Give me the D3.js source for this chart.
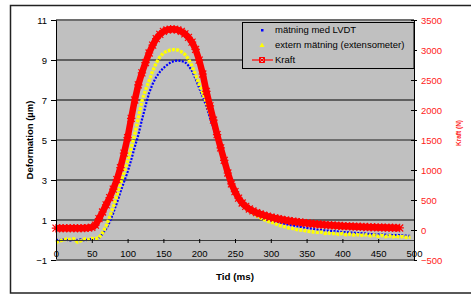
<!DOCTYPE html>
<html>
<head>
<meta charset="utf-8">
<script src="https://cdn.jsdelivr.net/npm/d3@7"></script>
<style>
  body { margin: 0; background: #fff; }
  text { font-family: "Liberation Sans", Arial, sans-serif; }
</style>
</head>
<body>
<div id="chart"></div>
<script>
// time in ms
const tid = [0,5,10,15,20,25,30,35,40,45,50,55,60,65,70,75,80,85,90,95,
  100,105,110,115,120,125,130,135,140,145,150,155,160,165,170,175,180,185,190,195,
  200,205,210,215,220,225,230,235,240,245,250,255,260,265,270,275,280,285,290,295,
  300,305,310,315,320,325,330,335,340,345,350,355,360,365,370,375,380,385,390,395,
  400,405,410,415,420,425,430,435,440,445,450,455,460,465,470,475,480,485,490,495];

// deformation (µm), LVDT
const lvdt = [0.02,-0.02,0.03,0.00,-0.03,0.02,0.00,0.03,-0.02,0.02,0.05,0.03,0.10,0.30,0.55,0.90,1.35,1.85,2.40,2.90,
  3.40,4.00,4.65,5.25,6.00,6.70,7.35,7.80,8.15,8.40,8.60,8.75,8.88,8.95,8.97,8.95,8.90,8.72,8.45,8.05,
  7.60,7.15,6.70,6.10,5.60,5.00,4.40,3.80,3.20,2.75,2.35,2.00,1.75,1.55,1.42,1.32,1.24,1.16,1.10,1.03,
  0.98,0.93,0.88,0.84,0.80,0.76,0.73,0.70,0.67,0.63,0.60,0.58,0.55,0.52,0.50,0.48,0.47,0.45,0.44,0.42,
  0.40,0.39,0.38,0.36,0.35,0.34,0.33,0.31,0.30,0.29,0.28,0.28,0.27,0.26,0.25,0.25,0.24,0.23,0.22,0.20];

// deformation (µm), extensometer
const extern = [-0.12,-0.05,0.00,0.05,0.02,0.06,-0.10,-0.04,0.05,0.02,0.08,0.06,0.12,0.35,0.70,1.15,1.65,2.20,2.80,3.35,
  3.95,4.60,5.30,6.10,6.95,7.50,7.95,8.45,8.85,9.15,9.35,9.45,9.50,9.52,9.50,9.42,9.28,9.05,8.70,8.25,
  7.80,7.35,6.90,6.35,5.80,5.15,4.50,3.85,3.25,2.80,2.40,2.05,1.80,1.60,1.45,1.33,1.22,1.12,1.03,0.95,
  0.88,0.85,0.75,0.70,0.66,0.60,0.58,0.53,0.50,0.50,0.44,0.42,0.40,0.38,0.40,0.33,0.36,0.30,0.34,0.28,
  0.33,0.26,0.30,0.25,0.28,0.22,0.27,0.24,0.20,0.25,0.18,0.23,0.17,0.22,0.15,0.20,0.14,0.18,0.12,0.15];

// force (N), t = 0..480
const kraft = [30,30,30,30,30,30,30,30,32,35,
  45,80,190,300,420,540,680,840,1040,1280,
  1540,1860,2167,2420,2620,2790,2950,3080,3190,3260,
  3310,3335,3345,3345,3335,3310,3270,3210,3130,3010,
  2830,2600,2310,2070,1830,1590,1370,1160,950,770,
  640,530,450,395,350,318,290,268,248,230,
  215,200,188,176,165,155,145,137,130,122,
  115,108,102,96,91,86,82,78,74,70,
  67,64,61,58,56,53,51,49,47,45,
  43,41,40,38,37,35,34];

const xTicks = [0,50,100,150,200,250,300,350,400,450,500];
const yTicks = [-1,1,3,5,7,9,11];
const y2Ticks = [-500,0,500,1000,1500,2000,2500,3000,3500];
const seriesNames = ["mätning med LVDT", "extern mätning (extensometer)", "Kraft"];

const w = 471, h = 295;
const svg = d3.select("#chart").append("svg").attr("width", w).attr("height", h);

// outer frame
svg.append("rect")
  .attr("x", 10.5).attr("y", 5.5).attr("width", 475).attr("height", 287.5)
  .attr("fill", "#fff").attr("stroke", "#222").attr("stroke-width", 1.5);

const x = d3.scaleLinear().domain([0, 500]).range([56, 414]);
const y = d3.scaleLinear().domain([-1, 11]).range([260, 20]);
const y2 = d3.scaleLinear().domain([-500, 3500]).range([260, 20]);

// plot area
svg.append("rect")
  .attr("x", x(0)).attr("y", y(11)).attr("width", x(500) - x(0)).attr("height", y(-1) - y(11))
  .attr("fill", "#c0c0c0");

// gridlines
svg.append("g").selectAll("line")
  .data(yTicks)
  .enter().append("line")
  .attr("x1", x(0)).attr("x2", x(500))
  .attr("y1", (d) => y(d)).attr("y2", (d) => y(d))
  .attr("stroke", (d) => ((d + 1) % 6 === 0 ? "#6e6e6e" : "#000"))
  .attr("stroke-width", (d) => ((d + 1) % 6 === 0 ? 2 : 1));

// series
const lineL = (vals) => d3.line().x((d, i) => x(tid[i])).y((d) => y(d))(vals);

svg.append("path")
  .attr("d", lineL(lvdt))
  .attr("fill", "none").attr("stroke", "#0000ff")
  .attr("stroke-width", 2.2).attr("stroke-dasharray", "2 1.4");

svg.append("path")
  .attr("d", lineL(extern))
  .attr("fill", "none").attr("stroke", "#ffff00")
  .attr("stroke-width", 3.4).attr("stroke-dasharray", "3 1.2");

const kraftLine = d3.line().x((d, i) => x(tid[i])).y((d) => y2(d));
svg.append("path")
  .attr("d", kraftLine(kraft))
  .attr("fill", "none").attr("stroke", "#ff0000")
  .attr("stroke-width", 6.5).attr("stroke-linejoin", "round");

const star = "M-3.5,-3.5L3.5,3.5M-3.5,3.5L3.5,-3.5M0,-4.2V4.2M-4.2,0H4.2";
svg.append("g").selectAll("path")
  .data(kraft)
  .enter().append("path")
  .attr("d", star)
  .attr("transform", (d, i) => `translate(${x(tid[i])},${y2(d)})`)
  .attr("fill", "none").attr("stroke", "#ff0000").attr("stroke-width", 1.2);

// left axis
const yAxis = svg.append("g")
  .attr("transform", `translate(${x(0)},0)`)
  .call(d3.axisLeft(y).tickValues(yTicks).tickSize(5).tickPadding(4));
yAxis.select(".domain").attr("stroke", "#000");
yAxis.selectAll("text").style("font-size", "9.5px").attr("fill", "#000");

// x axis at deformation 0
const xAxis = svg.append("g")
  .attr("transform", `translate(0,${y(0)})`)
  .call(d3.axisBottom(x).tickValues(xTicks).tickSize(3).tickSizeOuter(0));
xAxis.select(".domain").attr("stroke", "#3a3a3a");
xAxis.selectAll(".tick line").attr("y1", -1);
xAxis.selectAll("text").attr("y", 17).attr("dy", 0).style("font-size", "9.5px").attr("fill", "#000");

// right axis
const y2Axis = svg.append("g")
  .attr("transform", `translate(${x(500)},0)`)
  .call(d3.axisRight(y2).tickValues(y2Ticks).tickFormat(d3.format("d"))
    .tickSize(3).tickPadding(4).tickSizeOuter(0));
y2Axis.select(".domain").attr("stroke", "#000");
y2Axis.selectAll(".tick line").attr("x1", -3);
y2Axis.selectAll("text").style("font-size", "9.5px").attr("fill", "#ff1a1a");

// plot border bottom
svg.append("line")
  .attr("x1", x(0)).attr("x2", x(500)).attr("y1", y(-1)).attr("y2", y(-1))
  .attr("stroke", "#6e6e6e").attr("stroke-width", 2);

// axis titles
svg.append("text")
  .attr("transform", `translate(30,${(y(11) + y(-1)) / 2}) rotate(-90)`)
  .attr("text-anchor", "middle").attr("dy", "0.35em")
  .style("font-size", "9.5px").style("font-weight", "bold")
  .text("Deformation (µm)");

svg.append("text")
  .attr("x", 235).attr("y", 280)
  .attr("text-anchor", "middle")
  .style("font-size", "9.8px").style("font-weight", "bold")
  .text("Tid (ms)");

svg.append("text")
  .attr("transform", "translate(459,133) rotate(-90)")
  .attr("text-anchor", "middle").attr("dy", "0.35em")
  .style("font-size", "6.5px").style("font-weight", "bold").attr("fill", "#ff1a1a")
  .text("Kraft (N)");

// legend
const legend = svg.append("g").attr("id", "legend");
legend.append("rect")
  .attr("x", 242.5).attr("y", 22.5).attr("width", 171.5).attr("height", 46)
  .attr("fill", "#c0c0c0").attr("stroke", "#000");

const ly = [30, 45, 60];
legend.append("rect").attr("x", 261).attr("y", ly[0] - 1).attr("width", 2.5).attr("height", 2.5).attr("fill", "#0000ff");
legend.append("path")
  .attr("d", `M262,${ly[1] - 2.5}L264.5,${ly[1] + 2}L259.5,${ly[1] + 2}Z`)
  .attr("fill", "#ffff00");
legend.append("line")
  .attr("x1", 252).attr("x2", 273).attr("y1", ly[2]).attr("y2", ly[2])
  .attr("stroke", "#ff0000").attr("stroke-width", 1.2);
legend.append("path")
  .attr("d", "M-2.5,-2.5L2.5,2.5M-2.5,2.5L2.5,-2.5M-2.5,-2.5H2.5V2.5H-2.5Z")
  .attr("transform", `translate(262,${ly[2]})`)
  .attr("fill", "none").attr("stroke", "#ff0000").attr("stroke-width", 1);

legend.selectAll(".ltext")
  .data(seriesNames)
  .enter().append("text")
  .attr("class", "ltext")
  .attr("x", 275).attr("y", (d, i) => ly[i]).attr("dy", "0.35em")
  .style("font-size", "9.5px").attr("fill", "#000")
  .text((d) => d);
</script>
</body>
</html>
